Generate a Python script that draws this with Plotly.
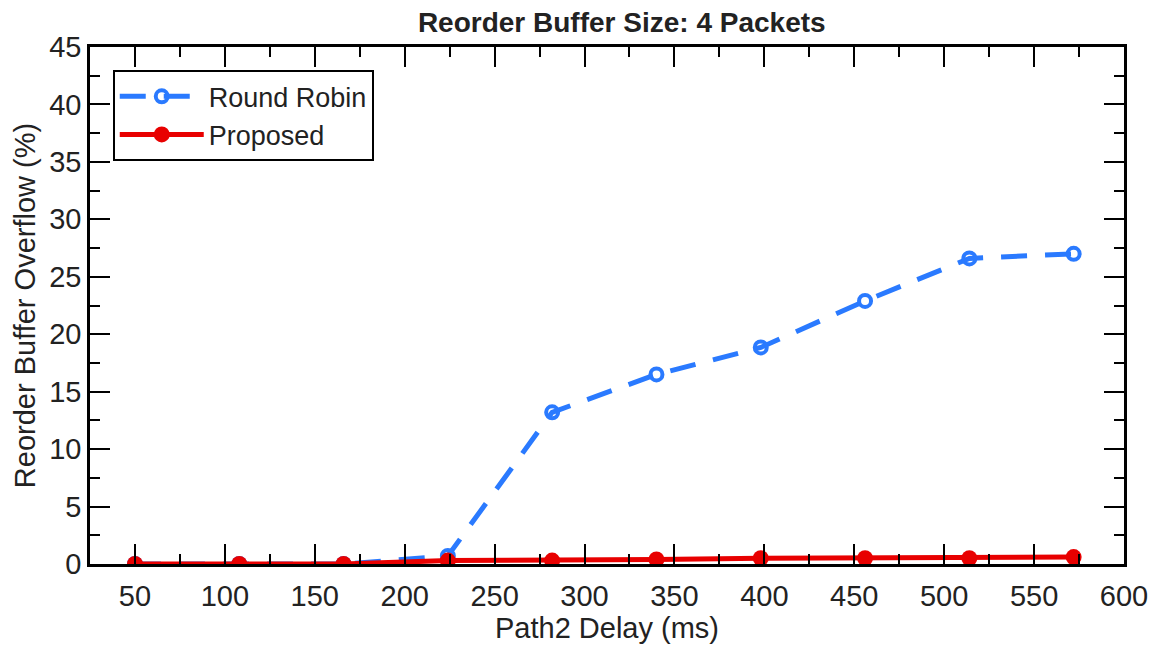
import plotly.graph_objects as go

delay_ms = [50, 108, 166, 224, 282, 340, 398, 456, 514, 572]
round_robin = [0.0, 0.0, 0.0, 0.7, 13.2, 16.5, 18.85, 22.9, 26.6, 27.0]
proposed = [0.0, 0.0, 0.0, 0.3, 0.3, 0.4, 0.5, 0.5, 0.5, 0.6]

BLUE = "rgb(42,122,255)"
RED = "rgb(232,0,0)"
FONT = "Liberation Sans, Arial, sans-serif"
TXT = "#222222"
FS = 29

fig = go.Figure()
fig.add_trace(go.Scatter(
    x=delay_ms, y=round_robin, name="Round Robin", mode="lines+markers",
    line=dict(color=BLUE, width=5, dash="26px,18px"),
    marker=dict(symbol="circle-open", size=12, color=BLUE, line=dict(width=4, color=BLUE)),
))
fig.add_trace(go.Scatter(
    x=delay_ms, y=proposed, name="Proposed", mode="lines+markers",
    line=dict(color=RED, width=5),
    marker=dict(symbol="circle", size=16, color=RED),
))

axis_common = dict(
    showline=True, linecolor="black", linewidth=2.5, mirror="ticks",
    ticks="inside", ticklen=20, tickwidth=2, tickcolor="black",
    showgrid=False, zeroline=False,
    tickfont=dict(family=FONT, size=FS, color=TXT),
)

fig.update_xaxes(
    range=[25, 600], tickmode="array", tickvals=list(range(50, 601, 50)),
    minor=dict(ticks="inside", ticklen=10, tickwidth=2, tickcolor="black", dtick=25, tick0=25, showgrid=False),
    title=dict(text="Path2 Delay (ms)", font=dict(family=FONT, size=FS, color=TXT), standoff=4),
    ticklabelstandoff=4,
    **axis_common,
)
fig.update_yaxes(
    range=[0, 45], tickmode="array", tickvals=list(range(0, 46, 5)),
    minor=dict(ticks="inside", ticklen=10, tickwidth=2, tickcolor="black", dtick=2.5, tick0=0, showgrid=False),
    title=dict(text="Reorder Buffer Overflow (%)", font=dict(family=FONT, size=FS, color=TXT), standoff=6),
    **axis_common,
)

fig.update_layout(
    width=1160, height=648,
    margin=dict(l=90, r=32, t=47, b=83),
    paper_bgcolor="white", plot_bgcolor="white",
    title=dict(text="<b>Reorder Buffer Size: 4 Packets</b>", x=0.536, xanchor="center",
               y=0.965, yanchor="middle", font=dict(family=FONT, size=28, color=TXT)),
    legend=dict(x=0.022, y=0.955, xanchor="left", yanchor="top",
                bordercolor="black", borderwidth=2, bgcolor="white", itemwidth=84,
                font=dict(family=FONT, size=27, color=TXT), tracegroupgap=0),
    showlegend=True,
)

fig.write_html("out.html")
